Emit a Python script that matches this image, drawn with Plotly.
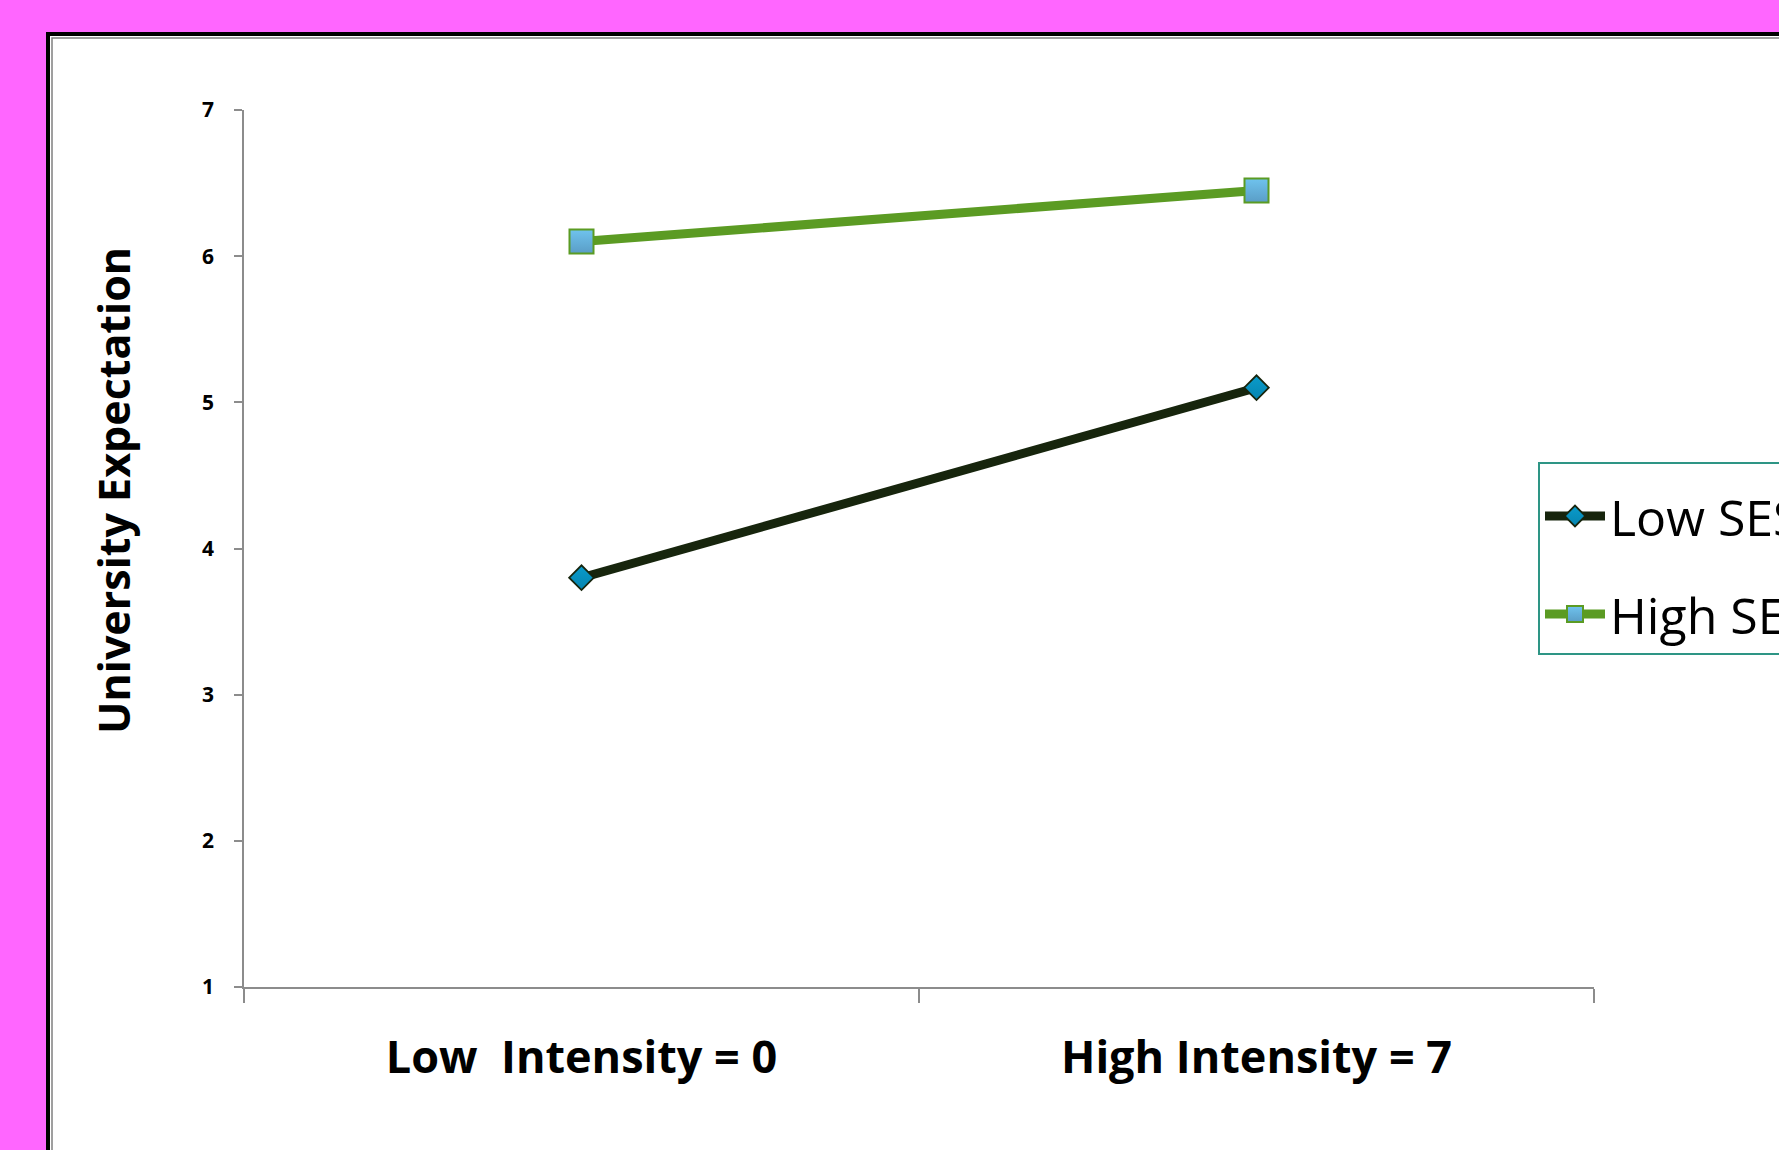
import plotly.graph_objects as go

categories = ["Low\u00a0\u00a0Intensity = 0", "High Intensity = 7"]
low_ses = [3.8, 5.1]
high_ses = [6.1, 6.45]
series_names = ["Low SES", "High SES"]
y_tick_values = [1, 2, 3, 4, 5, 6, 7]
y_title = "University Expectation"

W, H = 1779, 1150
ML, MR, MT, MB = 244, 185, 110, 163
PW, PH = W - ML - MR, H - MT - MB


def px_x(p):
    return (p - ML) / PW


def px_y(p):
    return (H - MB - p) / PH


fig = go.Figure()
fig.add_trace(go.Scatter(
    x=categories, y=low_ses, name=series_names[0], mode="lines+markers",
    legendgroup="a",
    line=dict(color="#17250D", width=9),
    marker=dict(symbol="diamond", size=19, color="#0A9BCB",
                gradient=dict(type="vertical", color="#0585B0"),
                line=dict(color="#17250D", width=1.8)),
))
fig.add_trace(go.Scatter(
    x=categories, y=high_ses, name=series_names[1], mode="lines+markers",
    legendgroup="b",
    line=dict(color="#5B9B23", width=9),
    marker=dict(symbol="square", size=24, color="#6FC3EE",
                gradient=dict(type="vertical", color="#5A9DC6"),
                line=dict(color="#5B9B23", width=2)),
))

shapes = [
    dict(type="rect", xref="paper", yref="paper", layer="below",
         x0=px_x(48), x1=px_x(W + 40), y0=px_y(H + 40), y1=px_y(34),
         line=dict(color="black", width=4), fillcolor="white"),
    dict(type="rect", xref="paper", yref="paper", layer="below",
         x0=px_x(52), x1=px_x(W + 40), y0=px_y(H + 40), y1=px_y(38),
         line=dict(color="#808080", width=1.5), fillcolor="rgba(0,0,0,0)"),
]

annotations = [
    dict(text=y_title, xref="paper", yref="paper", x=px_x(113), y=px_y(491),
         xanchor="center", yanchor="middle", textangle=-90, showarrow=False,
         font=dict(size=43, family="Open Sans, sans-serif", weight="bold", color="black")),
]

fig.update_layout(
    width=W, height=H,
    paper_bgcolor="#FF66FF", plot_bgcolor="rgba(0,0,0,0)",
    margin=dict(l=ML, r=MR, t=MT, b=MB, autoexpand=False),
    font=dict(family="Open Sans, sans-serif", color="black"),
    shapes=shapes,
    annotations=annotations,
    showlegend=True,
    legend=dict(
        x=px_x(1538), y=px_y(462), xanchor="left", yanchor="top",
        bgcolor="white", bordercolor="#2E9585", borderwidth=2,
        font=dict(size=50, color="black", family="Open Sans, sans-serif"),
        title=dict(text="\u00a0", font=dict(size=10)),
        itemwidth=60, traceorder="grouped", tracegroupgap=30,
    ),
    xaxis=dict(
        type="category", range=[-0.5, 1.5], tickson="boundaries",
        showline=True, linecolor="#8C8C8C", linewidth=1.5,
        ticks="outside", ticklen=14, tickcolor="#8C8C8C", tickwidth=1.5,
        showgrid=False, zeroline=False,
        tickfont=dict(size=45, family="Open Sans, sans-serif", weight="bold"),
        ticklabelstandoff=30,
    ),
    yaxis=dict(
        range=[1, 7], tickvals=y_tick_values,
        showline=True, linecolor="#8C8C8C", linewidth=1.5,
        ticks="outside", ticklen=8, tickcolor="#8C8C8C", tickwidth=1.5,
        showgrid=False, zeroline=False,
        tickfont=dict(size=21, family="Open Sans, sans-serif", weight="bold"),
        ticklabelstandoff=16,
    ),
)

fig.write_html("out.html", config={"displayModeBar": False},
               post_script="document.body.style.margin='0';")
